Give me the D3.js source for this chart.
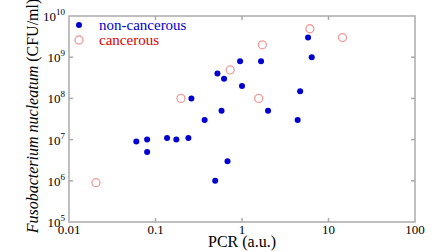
<!DOCTYPE html>
<html>
<head>
<meta charset="utf-8">
<script src="https://cdn.jsdelivr.net/npm/d3@7"></script>
<style>
  body { margin: 0; background: #fff; }
</style>
</head>
<body>
<div id="chart"></div>
<script>
// PCR (a.u.) vs F. nucleatum (CFU/ml)
const nonCancerousPcr = [0.26, 0.52, 0.62, 0.58, 0.37, 5.8, 6.4, 0.95, 1.66, 1.0, 4.7, 2.0, 4.4,
                         0.06, 0.08, 0.08, 0.136, 0.174, 0.24, 0.49, 0.68];
const nonCancerousCfu = [1e8, 4e8, 3e8, 5e7, 3e7, 3e9, 1e9, 8e8, 8e8, 2e8, 1.5e8, 5e7, 3e7,
                         9e6, 1e7, 5e6, 1.1e7, 1e7, 1.1e7, 1e6, 3e6];
const cancerousPcr = [0.197, 6.1, 14.5, 1.72, 0.73, 1.56, 0.0205];
const cancerousCfu = [1e8, 4.9e9, 3e9, 2e9, 4.9e8, 1e8, 9e5];

const xTicks = [0.01, 0.1, 1, 10, 100];
const xTickLabels = ['0.01', '0.1', '1', '10', '100'];
const yTicks = [1e5, 1e6, 1e7, 1e8, 1e9, 1e10];
const yTickExponents = ['5', '6', '7', '8', '9', '10'];

const W = 448, H = 252;
const margin = {top: 16, right: 33, bottom: 30, left: 69};
const width = W - margin.left - margin.right;
const height = H - margin.top - margin.bottom;
const serif = '"Liberation Serif", "DejaVu Serif", "Times New Roman", serif';

const svg = d3.select('#chart').append('svg')
    .attr('width', W)
    .attr('height', H)
    .attr('font-family', serif)
    .style('font-family', serif);

const g = svg.append('g')
    .attr('transform', `translate(${margin.left},${margin.top})`);

const x = d3.scaleLog().domain([0.01, 100]).range([0, width]);
const y = d3.scaleLog().domain([1e5, 1e10]).range([height, 0]);

const axisColor = '#aaa';

// frame
g.append('rect')
    .attr('width', width)
    .attr('height', height)
    .attr('fill', 'none')
    .attr('stroke', axisColor)
    .attr('stroke-width', 1.5);

// inward ticks on all four sides
const tickLen = 4;
const xInner = xTicks.slice(1, -1);
const yInner = yTicks.slice(1, -1);
xInner.forEach(t => {
    g.append('line').attr('x1', x(t)).attr('x2', x(t)).attr('y1', height).attr('y2', height - tickLen)
        .attr('stroke', axisColor).attr('stroke-width', 1.5);
    g.append('line').attr('x1', x(t)).attr('x2', x(t)).attr('y1', 0).attr('y2', tickLen)
        .attr('stroke', axisColor).attr('stroke-width', 1.5);
});
yInner.forEach(t => {
    g.append('line').attr('x1', 0).attr('x2', tickLen).attr('y1', y(t)).attr('y2', y(t))
        .attr('stroke', axisColor).attr('stroke-width', 1.5);
    g.append('line').attr('x1', width).attr('x2', width - tickLen).attr('y1', y(t)).attr('y2', y(t))
        .attr('stroke', axisColor).attr('stroke-width', 1.5);
});

// x tick labels
xTicks.forEach((t, i) => {
    g.append('text')
        .attr('x', x(t))
        .attr('y', height + 12)
        .attr('text-anchor', 'middle')
        .attr('font-size', 13)
        .attr('fill', '#000')
        .text(xTickLabels[i]);
});

// y tick labels: 10 with superscript exponent
yTicks.forEach((t, i) => {
    const txt = g.append('text')
        .attr('x', -4)
        .attr('y', y(t) + 5)
        .attr('text-anchor', 'end')
        .attr('font-size', 13)
        .attr('fill', '#000');
    txt.append('tspan').text('10');
    txt.append('tspan')
        .attr('dy', -6)
        .attr('font-size', 9)
        .text(yTickExponents[i]);
});

// axis titles
svg.append('text')
    .attr('x', margin.left + width / 2)
    .attr('y', 247)
    .attr('text-anchor', 'middle')
    .attr('font-size', 16)
    .text('PCR (a.u.)');

const yTitle = svg.append('text')
    .attr('transform', `translate(38,${margin.top + height / 2 - 3}) rotate(-90)`)
    .attr('text-anchor', 'middle')
    .attr('font-size', 16);
yTitle.append('tspan').attr('font-style', 'italic').text('Fusobacterium nucleatum');
yTitle.append('tspan').text(' (CFU/ml)');

const blue = '#0000d0';
const pink = '#f29a9a';
const red = '#e00000';

// cancerous: open circles
g.selectAll('.cancer')
    .data(cancerousPcr.map((p, i) => ({p, c: cancerousCfu[i]})))
    .join('circle')
    .attr('class', 'cancer')
    .attr('cx', d => x(d.p))
    .attr('cy', d => y(d.c))
    .attr('r', 4)
    .attr('fill', 'none')
    .attr('stroke', pink)
    .attr('stroke-width', 1.3);

// non-cancerous: filled dots
g.selectAll('.noncancer')
    .data(nonCancerousPcr.map((p, i) => ({p, c: nonCancerousCfu[i]})))
    .join('circle')
    .attr('class', 'noncancer')
    .attr('cx', d => x(d.p))
    .attr('cy', d => y(d.c))
    .attr('r', 3)
    .attr('fill', blue);

// legend
const legend = svg.append('g').attr('transform', 'translate(79,25)');
legend.append('circle').attr('cx', 0).attr('cy', 0).attr('r', 3).attr('fill', blue);
legend.append('text').attr('x', 20).attr('y', 5).attr('font-size', 15).attr('fill', blue).text('non-cancerous');
legend.append('circle').attr('cx', 0).attr('cy', 15).attr('r', 4)
    .attr('fill', 'none').attr('stroke', pink).attr('stroke-width', 1.3);
legend.append('text').attr('x', 20).attr('y', 20).attr('font-size', 15).attr('fill', red).text('cancerous');
</script>
</body>
</html>
